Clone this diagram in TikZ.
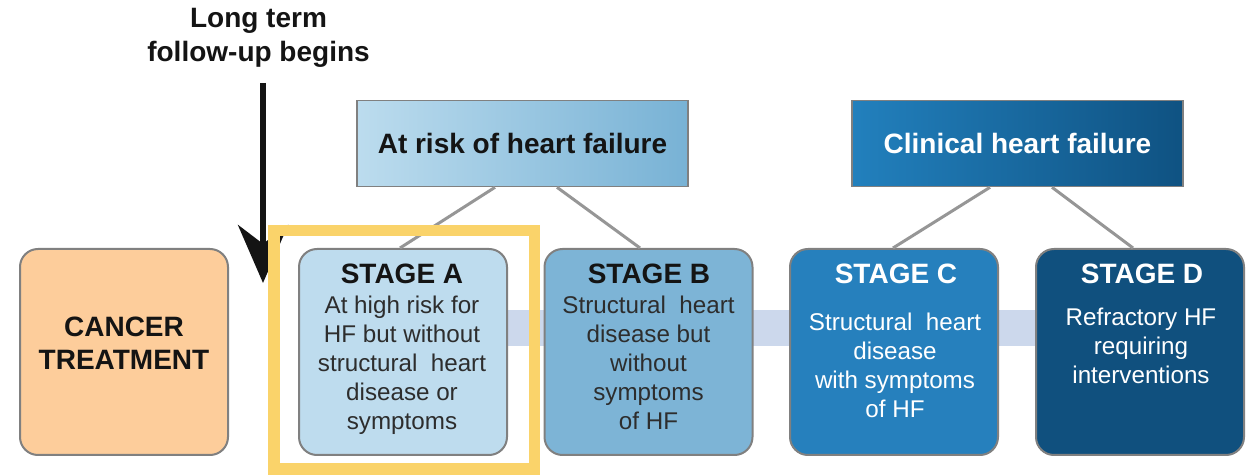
\documentclass[tikz,border=0pt]{standalone}
\usepackage{fontspec}
\setmainfont{Liberation Sans}
\usetikzlibrary{arrows.meta,backgrounds}
\definecolor{peach}{RGB}{253,205,155}
\definecolor{stA}{RGB}{190,220,238}
\definecolor{stB}{RGB}{125,180,214}
\definecolor{stC}{RGB}{38,128,189}
\definecolor{stD}{RGB}{16,80,126}
\definecolor{arL}{RGB}{188,220,238}
\definecolor{arR}{RGB}{120,178,213}
\definecolor{clL}{RGB}{34,128,189}
\definecolor{clR}{RGB}{15,82,130}
\definecolor{boxgray}{RGB}{128,128,128}
\definecolor{linkgray}{RGB}{150,150,150}
\definecolor{bandcol}{RGB}{204,216,236}
\definecolor{hlyellow}{RGB}{250,211,106}
\definecolor{darktext}{RGB}{20,20,20}
\definecolor{bodytext}{RGB}{45,45,45}
\begin{document}
\begin{tikzpicture}[x=0.5pt,y=-0.5pt,
  stagebox/.style={draw=boxgray, line width=1pt, rounded corners=9pt, minimum width=104pt, minimum height=103pt, inner sep=0pt},
  headbox/.style={draw=boxgray, line width=0.8pt, minimum width=165.5pt, minimum height=43pt, inner sep=0pt, font=\bfseries\fontsize{14}{16}\selectfont},
  stagehead/.style={anchor=base, inner sep=0pt, font=\bfseries\fontsize{14}{16}\selectfont},
  stagebody/.style={anchor=north, inner sep=0pt, align=center, font=\fontsize{12.1}{14.5}\selectfont},
  link/.style={draw=linkgray, line width=1.5pt},
]
\useasboundingbox (0,0) rectangle (1253,475);

% top category boxes
\node[headbox, left color=arL, right color=arR, text=darktext] (atrisk) at (522.5,143.5) {At risk of heart failure};
\node[headbox, left color=clL, right color=clR, text=white] (clinical) at (1017.5,143.5) {Clinical heart failure};

% stage boxes
\node[stagebox, fill=peach] (cancer) at (124,352) {};
\node[stagebox, fill=stA] (stA) at (403,352) {};
\node[stagebox, fill=stB] (stB) at (648.5,352) {};
\node[stagebox, fill=stC] (stC) at (894,352) {};
\node[stagebox, fill=stD] (stD) at (1140,352) {};

% band behind the stages
\begin{scope}[on background layer]
\fill[bandcol] ([yshift=21pt]stA.center) rectangle ([yshift=3pt]stD.center);
\end{scope}

% connectors
\draw[link] ([xshift=-13.75pt]atrisk.south) -- ([xshift=-1.5pt]stA.north);
\draw[link] ([xshift=17.25pt]atrisk.south) -- ([xshift=-4.25pt]stB.north);
\draw[link] ([xshift=-13.75pt]clinical.south) -- ([xshift=-0.5pt]stC.north);
\draw[link] ([xshift=17.25pt]clinical.south) -- ([xshift=-3.5pt]stD.north);

% texts
\node[stagebody, font=\bfseries\fontsize{14}{16.5}\selectfont, text=darktext] (cancerT) at (124,317) {CANCER\\TREATMENT};

\node[stagehead, text=darktext] (stAh) at (402,284) {STAGE A};
\node[stagebody, text=bodytext] (stAb) at (402,296) {At high risk for\\HF but without\\structural\ \ heart\\disease or\\symptoms};

\node[stagehead, text=darktext] (stBh) at (649,284) {STAGE B};
\node[stagebody, text=bodytext] (stBb) at (648.5,296) {Structural\ \ heart\\disease but\\without\\symptoms\\of HF};

\node[stagehead, text=white] (stCh) at (896,284) {STAGE C};
\node[stagebody, text=white] (stCb) at (895,313) {Structural\ \ heart\\disease\\with symptoms\\of HF};

\node[stagehead, text=white] (stDh) at (1142,284) {STAGE D};
\node[stagebody, text=white] (stDb) at (1141,308) {Refractory HF\\requiring\\interventions};

% long term follow-up
\node[anchor=north, inner sep=0pt, align=center, font=\bfseries\fontsize{14}{17}\selectfont, text=darktext] (lt) at (258.5,8) {Long term\\follow-up begins};
\coordinate (arrS) at (263,83);
\coordinate (arrE) at (263,283);
\draw[line width=3pt, draw=darktext, -{Stealth[length=29pt,width=25pt]}] (arrS) -- (arrE);

% highlight around stage A
\node[draw=hlyellow, line width=5.75pt, minimum width=130.25pt, minimum height=119.25pt, inner sep=0pt] (hl) at (404.25,349.75) {};
\end{tikzpicture}
\end{document}
